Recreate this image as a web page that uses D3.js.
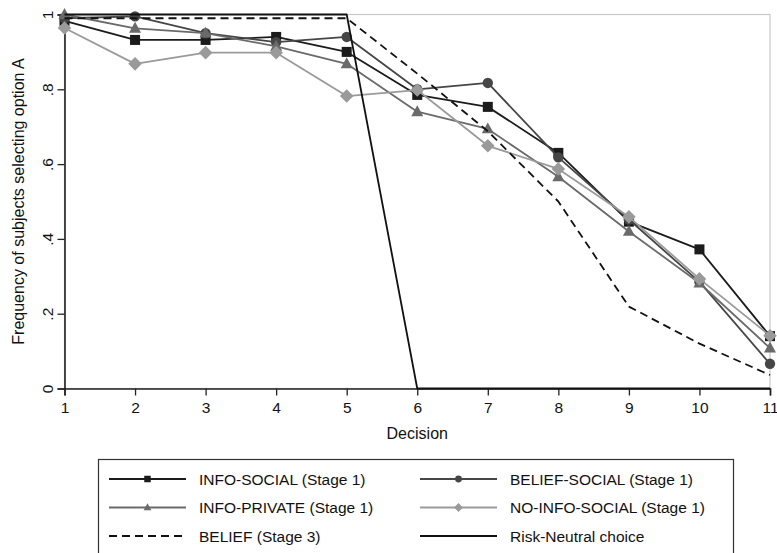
<!DOCTYPE html>
<html>
<head>
<meta charset="utf-8">
<script src="https://cdn.jsdelivr.net/npm/d3@7"></script>
<style>
  html, body { margin: 0; padding: 0; background: #fff; }
  svg { display: block; font-family: "Liberation Sans", Arial, Helvetica, sans-serif; }
</style>
</head>
<body>
<svg id="chart" width="777" height="553"></svg>
<script>
const decisions = [1, 2, 3, 4, 5, 6, 7, 8, 9, 10, 11];
const infoSocial    = [0.983, 0.932, 0.932, 0.940, 0.900, 0.785, 0.753, 0.630, 0.446, 0.372, 0.140];
const beliefSocial  = [0.990, 0.995, 0.950, 0.926, 0.940, 0.800, 0.817, 0.618, 0.452, 0.285, 0.066];
const infoPrivate   = [1.000, 0.963, 0.950, 0.915, 0.868, 0.740, 0.694, 0.566, 0.420, 0.282, 0.108];
const noInfoSocial  = [0.964, 0.868, 0.898, 0.898, 0.782, 0.798, 0.649, 0.587, 0.459, 0.293, 0.141];
const beliefStage3  = [0.990, 0.990, 0.990, 0.990, 0.990, 0.842, 0.688, 0.500, 0.219, 0.120, 0.036];
const riskNeutral   = [1, 1, 1, 1, 1, 0, 0, 0, 0, 0, 0];
const yTicks = [0, 0.2, 0.4, 0.6, 0.8, 1];
const yTickLabels = ["0", ".2", ".4", ".6", ".8", "1"];
const seriesNames = ["INFO-SOCIAL (Stage 1)", "BELIEF-SOCIAL (Stage 1)", "INFO-PRIVATE (Stage 1)",
                     "NO-INFO-SOCIAL (Stage 1)", "BELIEF (Stage 3)", "Risk-Neutral choice"];

const series = [
  { name: seriesNames[0], values: infoSocial,   color: "#1b1b1b", marker: "square",   dash: null },
  { name: seriesNames[1], values: beliefSocial, color: "#464646", marker: "circle",   dash: null },
  { name: seriesNames[2], values: infoPrivate,  color: "#6a6a6a", marker: "triangle", dash: null },
  { name: seriesNames[3], values: noInfoSocial, color: "#9a9a9a", marker: "diamond",  dash: null },
  { name: seriesNames[4], values: beliefStage3, color: "#111111", marker: null,       dash: "8,5" },
  { name: seriesNames[5], values: riskNeutral,  color: "#111111", marker: null,       dash: null }
];

const svg = d3.select("#chart");
const pLeft = 64.5, pRight = 770, pTop = 14.5, pBottom = 388.5;

const x = d3.scaleLinear().domain([1, 11]).range([pLeft, pRight]);
const y = d3.scaleLinear().domain([0, 1]).range([pBottom, pTop]);

// plot frame (light)
svg.append("rect")
  .attr("x", pLeft).attr("y", pTop)
  .attr("width", pRight - pLeft).attr("height", pBottom - pTop)
  .attr("fill", "none").attr("stroke", "#c8c8c8").attr("stroke-width", 1.2);

// x axis
const xAxis = svg.append("g")
  .attr("transform", `translate(0,${pBottom})`)
  .call(d3.axisBottom(x).tickValues(decisions).tickFormat(d3.format("d")).tickSize(7).tickPadding(6));
xAxis.select(".domain").attr("stroke", "#222").attr("stroke-width", 1.6);
xAxis.selectAll(".tick line").attr("stroke", "#222").attr("stroke-width", 1.3);
xAxis.selectAll(".tick text").attr("font-size", 15.5).attr("fill", "#111")
  .attr("font-family", "Liberation Sans, Arial, sans-serif");

// y axis
const yAxis = svg.append("g")
  .attr("transform", `translate(${pLeft},0)`)
  .call(d3.axisLeft(y).tickValues(yTicks).tickFormat((d, i) => yTickLabels[i]).tickSize(7).tickPadding(0));
yAxis.select(".domain").attr("stroke", "#222").attr("stroke-width", 1.6);
yAxis.selectAll(".tick line").attr("stroke", "#222").attr("stroke-width", 1.3);
yAxis.selectAll(".tick text")
  .attr("font-size", 15.5).attr("fill", "#111")
  .attr("font-family", "Liberation Sans, Arial, sans-serif")
  .attr("x", null)
  .attr("text-anchor", "middle")
  .attr("transform", "translate(-17,0) rotate(-90)")
  .attr("dy", "0.35em");

// axis titles
svg.append("text")
  .attr("x", (pLeft + pRight) / 2).attr("y", 439)
  .attr("text-anchor", "middle").attr("font-size", 16).attr("fill", "#111")
  .text("Decision");
svg.append("text")
  .attr("transform", `translate(24,${(pTop + pBottom) / 2}) rotate(-90)`)
  .attr("text-anchor", "middle").attr("font-size", 16).attr("fill", "#111")
  .text("Frequency of subjects selecting option A");

// lines
const line = d3.line().x((d, i) => x(decisions[i])).y(d => y(d));
const g = svg.append("g");

function drawMarker(sel, type, cx, cy, color, s) {
  if (type === "square") {
    sel.append("rect").attr("x", cx - s / 2).attr("y", cy - s / 2).attr("width", s).attr("height", s)
      .attr("fill", color);
  } else if (type === "circle") {
    sel.append("circle").attr("cx", cx).attr("cy", cy).attr("r", s * 0.52).attr("fill", color);
  } else if (type === "triangle") {
    const h = s * 1.05, w = s * 1.2;
    sel.append("path").attr("d", `M${cx},${cy - h * 0.62}L${cx + w / 2},${cy + h * 0.42}L${cx - w / 2},${cy + h * 0.42}Z`)
      .attr("fill", color);
  } else if (type === "diamond") {
    const r = s * 0.68;
    sel.append("path").attr("d", `M${cx},${cy - r}L${cx + r},${cy}L${cx},${cy + r}L${cx - r},${cy}Z`)
      .attr("fill", color);
  }
}

series.forEach(s => {
  g.append("path")
    .datum(s.values)
    .attr("d", line)
    .attr("fill", "none")
    .attr("stroke", s.color)
    .attr("stroke-width", 1.8)
    .attr("stroke-dasharray", s.dash)
    .attr("stroke-linejoin", "round");
  if (s.marker) {
    const mg = g.append("g");
    s.values.forEach((v, i) => drawMarker(mg, s.marker, x(decisions[i]), y(v), s.color, 10));
  }
});

// legend
const lg = svg.append("g");
lg.append("rect")
  .attr("x", 98.5).attr("y", 459.5).attr("width", 635).attr("height", 110)
  .attr("fill", "#fff").attr("stroke", "#333").attr("stroke-width", 1.2);
const cols = [{ x1: 109, x2: 186, tx: 199 }, { x1: 420, x2: 497, tx: 510 }];
const rows = [479, 507.5, 536];
series.forEach((s, i) => {
  const c = cols[i % 2], ry = rows[Math.floor(i / 2)];
  const it = lg.append("g");
  it.append("line")
    .attr("x1", c.x1).attr("x2", c.x2).attr("y1", ry).attr("y2", ry)
    .attr("stroke", s.color).attr("stroke-width", 1.8).attr("stroke-dasharray", s.dash);
  if (s.marker) drawMarker(it, s.marker, (c.x1 + c.x2) / 2, ry, s.color, 6.5);
  it.append("text")
    .attr("x", c.tx).attr("y", ry).attr("dy", "0.36em")
    .attr("font-size", 15.5).attr("fill", "#111")
    .text(s.name);
});
</script>
</body>
</html>
